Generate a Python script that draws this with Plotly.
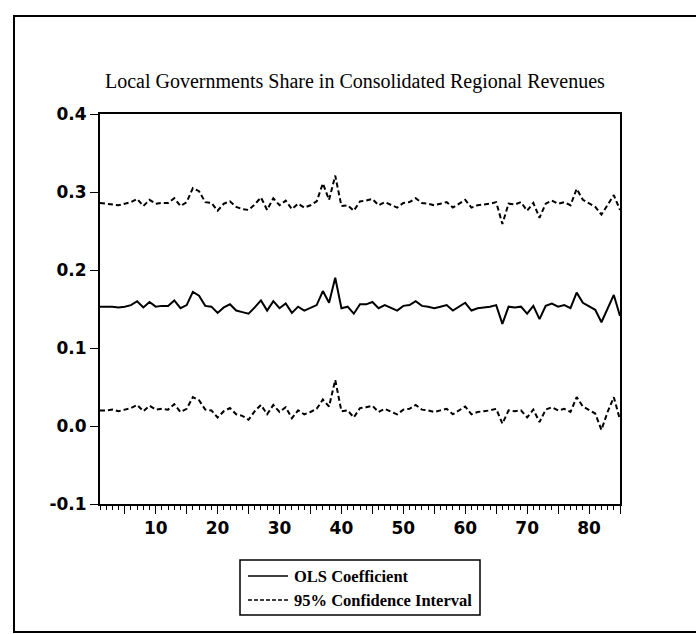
import plotly.graph_objects as go

obs = list(range(1, 86))

coef = [0.153, 0.153, 0.153, 0.152, 0.153, 0.155, 0.160, 0.152, 0.159, 0.153,
        0.154, 0.154, 0.161, 0.151, 0.155, 0.172, 0.167, 0.154, 0.153, 0.145,
        0.152, 0.156, 0.148, 0.146, 0.144, 0.152, 0.161, 0.148, 0.160, 0.151,
        0.157, 0.145, 0.153, 0.148, 0.151, 0.155, 0.173, 0.158, 0.190, 0.151,
        0.153, 0.144, 0.156, 0.156, 0.159, 0.151, 0.155, 0.152, 0.148, 0.154,
        0.155, 0.160, 0.154, 0.153, 0.151, 0.153, 0.155, 0.148, 0.153, 0.158,
        0.148, 0.151, 0.152, 0.153, 0.155, 0.131, 0.153, 0.152, 0.153, 0.144,
        0.154, 0.137, 0.154, 0.157, 0.153, 0.155, 0.151, 0.171, 0.158, 0.154,
        0.149, 0.133, 0.151, 0.168, 0.141]

upper = [0.286, 0.285, 0.284, 0.283, 0.285, 0.287, 0.291, 0.282, 0.290, 0.285,
         0.286, 0.286, 0.292, 0.282, 0.287, 0.305, 0.301, 0.287, 0.286, 0.276,
         0.285, 0.288, 0.281, 0.278, 0.277, 0.284, 0.293, 0.277, 0.292, 0.283,
         0.289, 0.278, 0.285, 0.280, 0.283, 0.288, 0.311, 0.290, 0.321, 0.282,
         0.283, 0.276, 0.288, 0.289, 0.291, 0.283, 0.287, 0.284, 0.280, 0.286,
         0.287, 0.292, 0.286, 0.285, 0.283, 0.285, 0.287, 0.280, 0.285, 0.290,
         0.280, 0.283, 0.284, 0.285, 0.287, 0.259, 0.285, 0.284, 0.287, 0.276,
         0.286, 0.267, 0.285, 0.289, 0.285, 0.287, 0.283, 0.304, 0.290, 0.286,
         0.281, 0.271, 0.283, 0.296, 0.277]

lower = [0.020, 0.020, 0.021, 0.019, 0.021, 0.023, 0.027, 0.019, 0.026, 0.021,
         0.022, 0.021, 0.028, 0.018, 0.022, 0.037, 0.033, 0.021, 0.020, 0.011,
         0.019, 0.023, 0.015, 0.013, 0.008, 0.019, 0.027, 0.015, 0.027, 0.018,
         0.024, 0.010, 0.020, 0.015, 0.018, 0.022, 0.034, 0.025, 0.059, 0.019,
         0.020, 0.011, 0.023, 0.024, 0.026, 0.018, 0.022, 0.019, 0.015, 0.021,
         0.022, 0.027, 0.021, 0.020, 0.018, 0.020, 0.022, 0.015, 0.020, 0.025,
         0.015, 0.018, 0.019, 0.020, 0.022, 0.003, 0.020, 0.019, 0.020, 0.011,
         0.021, 0.005, 0.021, 0.024, 0.020, 0.022, 0.018, 0.037, 0.025, 0.021,
         0.016, -0.005, 0.018, 0.037, 0.008]

y_ticks = [-0.1, 0.0, 0.1, 0.2, 0.3, 0.4]
y_ticktext = ["-0.1", "0.0", "0.1", "0.2", "0.3", "0.4"]
x_ticks = [5, 10, 15, 20, 25, 30, 35, 40, 45, 50, 55, 60, 65, 70, 75, 80, 85]
x_ticktext = ["", "10", "", "20", "", "30", "", "40", "", "50", "", "60", "", "70", "", "80", ""]

title_text = "Local Governments Share in Consolidated Regional Revenues"
legend_names = ["OLS Coefficient", "95% Confidence Interval"]
DASH = "5px,3px"

fig = go.Figure()
fig.add_trace(go.Scatter(x=obs, y=coef, mode="lines", name=legend_names[0],
                         showlegend=False, line=dict(color="black", width=2)))
fig.add_trace(go.Scatter(x=obs, y=upper, mode="lines", name=legend_names[1],
                         showlegend=False, line=dict(color="black", width=2, dash=DASH)))
fig.add_trace(go.Scatter(x=obs, y=lower, mode="lines", name="lower",
                         showlegend=False, line=dict(color="black", width=2, dash=DASH)))

L, R, T, B = 100, 620, 114, 504
W, H = 696, 634

def px(xp):
    return (xp - L) / (R - L)

def py(yp):
    return (B - yp) / (B - T)

# legend box (drawn by hand to match the reference's geometry)
LX0, LX1, LY0, LY1 = 240, 480, 560, 615
rows_y = [576, 600]
shapes = [
    dict(type="rect", xref="paper", yref="paper",
         x0=px(14), x1=px(702), y0=py(632), y1=py(16),
         line=dict(color="black", width=2), fillcolor="rgba(0,0,0,0)"),
    dict(type="rect", xref="paper", yref="paper",
         x0=px(LX0), x1=px(LX1), y0=py(LY1), y1=py(LY0),
         line=dict(color="black", width=1.5), fillcolor="white"),
    dict(type="line", xref="paper", yref="paper",
         x0=px(248), x1=px(288), y0=py(rows_y[0]), y1=py(rows_y[0]),
         line=dict(color="black", width=1.5)),
    dict(type="line", xref="paper", yref="paper",
         x0=px(248), x1=px(288), y0=py(rows_y[1]), y1=py(rows_y[1]),
         line=dict(color="black", width=1.5, dash="4px,2px")),
]
annotations = [dict(text=title_text, xref="paper", yref="paper",
                    x=px(355), y=py(81), xanchor="center", yanchor="middle",
                    showarrow=False,
                    font=dict(family="Liberation Serif", size=20, color="black"))]
for name, ry in zip(legend_names, rows_y):
    annotations.append(dict(text=name, xref="paper", yref="paper",
                            x=px(292), y=py(ry), xanchor="left", yanchor="middle",
                            showarrow=False,
                            font=dict(family="Liberation Serif", size=16.5,
                                      color="black", weight="bold")))

fig.update_layout(
    width=W, height=H,
    margin=dict(l=L, r=W - R, t=T, b=H - B),
    paper_bgcolor="white", plot_bgcolor="white",
    showlegend=False,
    xaxis=dict(range=[1, 85], showgrid=False, zeroline=False,
               showline=True, linecolor="black", linewidth=2, mirror=True,
               ticks="outside", ticklen=8, tickwidth=1, tickcolor="black",
               tickvals=x_ticks, ticktext=x_ticktext,
               tickfont=dict(family="DejaVu Sans", size=17, color="black", weight="bold"),
               minor=dict(dtick=1, ticks="outside", ticklen=4, tickwidth=1, tickcolor="black")),
    yaxis=dict(range=[-0.1, 0.4], showgrid=False, zeroline=False,
               showline=True, linecolor="black", linewidth=2, mirror=True,
               ticks="outside", ticklen=8, tickwidth=1, tickcolor="black",
               tickvals=y_ticks, ticktext=y_ticktext,
               tickfont=dict(family="DejaVu Sans", size=17, color="black", weight="bold")),
    shapes=shapes,
    annotations=annotations,
)

fig.write_html("out.html")
